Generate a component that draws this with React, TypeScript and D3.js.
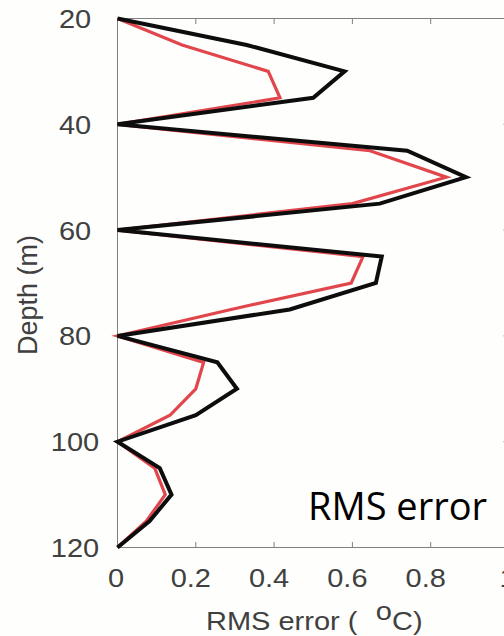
import React, { useEffect, useRef } from 'react';
import * as d3 from 'd3';

// depth levels (m) and RMS error (degC) for the two profiles
const depths = [20, 25, 30, 35, 40, 45, 50, 55, 60, 65, 70, 75, 80, 85, 90, 95, 100, 105, 110, 115, 120];
const rmsBlack = [0, 0.33, 0.58, 0.5, 0, 0.74, 0.89, 0.67, 0, 0.675, 0.66, 0.44, 0, 0.255, 0.305, 0.2, 0, 0.108, 0.138, 0.082, 0];
const rmsRed = [0, 0.165, 0.385, 0.415, 0, 0.645, 0.84, 0.6, 0, 0.627, 0.597, 0.29, 0, 0.22, 0.2, 0.134, 0, 0.095, 0.122, 0.074, 0];

const xTicks = [0, 0.2, 0.4, 0.6, 0.8, 1];
const yTicks = [20, 40, 60, 80, 100, 120];

const App = () => {
  const ref = useRef<SVGSVGElement>(null);

  useEffect(() => {
    const svg = d3.select(ref.current);
    svg.selectAll('*').remove();

    const x = d3.scaleLinear().domain([0, 1]).range([117.5, 509]);
    const y = d3.scaleLinear().domain([20, 120]).range([18.5, 547.5]);
    const axisColor = '#808080';
    const textColor = '#404040';
    const tickLen = 5.5;
    const stretch = 'scale(1.16,1)';

    svg.append('rect').attr('width', 504).attr('height', 636).attr('fill', '#fefefc');

    // box
    const g = svg.append('g').attr('stroke', axisColor).attr('stroke-width', 1);
    g.append('line').attr('x1', x(0)).attr('x2', x(1)).attr('y1', y(20)).attr('y2', y(20));
    g.append('line').attr('x1', x(0)).attr('x2', x(1)).attr('y1', y(120)).attr('y2', y(120));
    g.append('line').attr('x1', x(0)).attr('x2', x(0)).attr('y1', y(20)).attr('y2', y(120));
    g.append('line').attr('x1', x(1)).attr('x2', x(1)).attr('y1', y(20)).attr('y2', y(120));

    // ticks on all four sides
    xTicks.slice(1, -1).forEach(t => {
      g.append('line').attr('x1', x(t)).attr('x2', x(t)).attr('y1', y(20)).attr('y2', y(20) + tickLen);
      g.append('line').attr('x1', x(t)).attr('x2', x(t)).attr('y1', y(120)).attr('y2', y(120) - tickLen);
    });
    yTicks.slice(1, -1).forEach(t => {
      g.append('line').attr('x1', x(0)).attr('x2', x(0) + tickLen).attr('y1', y(t)).attr('y2', y(t));
      g.append('line').attr('x1', x(1)).attr('x2', x(1) - tickLen).attr('y1', y(t)).attr('y2', y(t));
    });

    // tick labels
    xTicks.forEach(t => {
      svg.append('g')
        .attr('transform', `translate(${x(t) - (t > 0 && t < 1 ? 5 : 1.5)},587) ${stretch}`)
        .append('text')
        .attr('text-anchor', 'middle')
        .attr('font-family', '"Liberation Sans", Arial, sans-serif')
        .attr('font-size', 25)
        .attr('fill', textColor)
        .text(d3.format('~g')(t));
    });
    yTicks.forEach(t => {
      svg.append('g')
        .attr('transform', `translate(75,${y(t) + 9.5}) ${stretch}`)
        .append('text')
        .attr('text-anchor', 'middle')
        .attr('font-family', '"Liberation Sans", Arial, sans-serif')
        .attr('font-size', 25)
        .attr('fill', textColor)
        .text(t);
    });

    // axis titles
    const xl = svg.append('g')
      .attr('transform', `translate(206,630) ${stretch}`)
      .append('text')
      .attr('font-family', '"Liberation Sans", Arial, sans-serif')
      .attr('font-size', 25)
      .attr('fill', textColor)
      .attr('xml:space', 'preserve');
    xl.append('tspan').text('RMS error ( ');
    xl.append('tspan').attr('dx', 9).attr('dy', -10).text('o');
    xl.append('tspan').attr('dy', 10).text('C)');

    svg.append('text')
      .attr('transform', 'translate(37,295) rotate(-90)')
      .attr('text-anchor', 'middle')
      .attr('font-family', '"Liberation Sans", Arial, sans-serif')
      .attr('font-size', 27)
      .attr('fill', textColor)
      .text('Depth (m)');

    // profiles
    const line = d3.line<number>()
      .x(d => x(d))
      .y((d, i) => y(depths[i]));

    svg.append('path')
      .attr('d', line(rmsRed))
      .attr('fill', 'none')
      .attr('stroke', '#e0464b')
      .attr('stroke-width', 3.2);

    svg.append('path')
      .attr('d', line(rmsBlack))
      .attr('fill', 'none')
      .attr('stroke', '#0d0d0d')
      .attr('stroke-width', 4)
      .attr('stroke-linejoin', 'miter');

    // panel label
    svg.append('text')
      .attr('x', 308)
      .attr('y', 520)
      .attr('font-family', '"Open Sans", sans-serif')
      .attr('font-size', 38)
      .attr('fill', '#000')
      .text('RMS error');
  }, []);

  return (
    <svg ref={ref} width={504} height={636} style={{ position: 'absolute', left: 0, top: 0 }} />
  );
};

export default App;
